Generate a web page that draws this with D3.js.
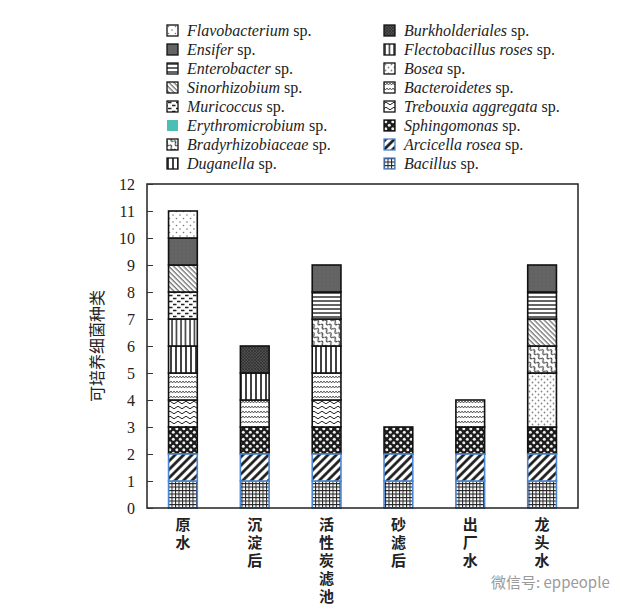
<!DOCTYPE html>
<html>
<head>
<meta charset="utf-8">
<script src="https://cdn.jsdelivr.net/npm/d3@7"></script>
<style>
  body { margin: 0; background: #fff; }
  svg { display: block; }
</style>
</head>
<body>
<svg width="640" height="610"></svg>
<script>
// sampling sites (x categories)
var sites = ["原水", "沉淀后", "活性炭滤池", "砂滤后", "出厂水", "龙头水"];

// legend order, two columns
var legendLeft = ["Flavobacterium", "Ensifer", "Enterobacter", "Sinorhizobium",
    "Muricoccus", "Erythromicrobium", "Bradyrhizobiaceae", "Duganella"];
var legendRight = ["Burkholderiales", "Flectobacillus roses", "Bosea", "Bacteroidetes",
    "Trebouxia aggregata", "Sphingomonas", "Arcicella rosea", "Bacillus"];

// stacked species per site, bottom to top, and number of species of each segment
var stackRaw = ["Bacillus", "Arcicella rosea", "Sphingomonas", "Trebouxia aggregata", "Bacteroidetes",
    "Duganella", "Flectobacillus roses", "Muricoccus", "Sinorhizobium", "Ensifer", "Flavobacterium"];
var countRaw = [1, 1, 1, 1, 1, 1, 1, 1, 1, 1, 1];
var stackSettled = ["Bacillus", "Arcicella rosea", "Sphingomonas", "Bacteroidetes", "Duganella", "Burkholderiales"];
var countSettled = [1, 1, 1, 1, 1, 1];
var stackCarbon = ["Bacillus", "Arcicella rosea", "Sphingomonas", "Trebouxia aggregata", "Bacteroidetes",
    "Duganella", "Bradyrhizobiaceae", "Enterobacter", "Ensifer"];
var countCarbon = [1, 1, 1, 1, 1, 1, 1, 1, 1];
var stackSand = ["Bacillus", "Arcicella rosea", "Sphingomonas"];
var countSand = [1, 1, 1];
var stackFinished = ["Bacillus", "Arcicella rosea", "Sphingomonas", "Bacteroidetes"];
var countFinished = [1, 1, 1, 1];
var stackTap = ["Bacillus", "Arcicella rosea", "Sphingomonas", "Bosea", "Bradyrhizobiaceae",
    "Sinorhizobium", "Enterobacter", "Ensifer"];
var countTap = [1, 1, 1, 2, 1, 1, 1, 1];

var yTicks = [0, 1, 2, 3, 4, 5, 6, 7, 8, 9, 10, 11, 12];

var stacks = [stackRaw, stackSettled, stackCarbon, stackSand, stackFinished, stackTap];
var counts = [countRaw, countSettled, countCarbon, countSand, countFinished, countTap];

var svg = d3.select("svg"),
    margin = {top: 184, right: 62, bottom: 102, left: 147},
    width = +svg.attr("width"),
    height = +svg.attr("height");

var x = d3.scaleBand()
    .domain(sites)
    .range([margin.left, width - margin.right])
    .paddingInner(0.6)
    .paddingOuter(0.3);

var y = d3.scaleLinear()
    .domain([0, 12])
    .range([height - margin.bottom, margin.top]);

// ---- fill patterns ----
var defs = svg.append("defs");
function pat(id, w, h, bg, rot) {
    var p = defs.append("pattern")
        .attr("id", id)
        .attr("patternUnits", "userSpaceOnUse")
        .attr("width", w).attr("height", h);
    if (rot) p.attr("patternTransform", "rotate(" + rot + ")");
    p.append("rect").attr("width", w).attr("height", h).attr("fill", bg);
    return p;
}

var p;
p = pat("p-bacillus", 3.5, 3.5, "#fff");
p.append("path").attr("d", "M0 0.5H3.5M0.5 0V3.5").attr("stroke", "#222").attr("stroke-width", 1);

p = pat("p-arcicella", 6, 6, "#fff", 45);
p.append("line").attr("x1", 1.5).attr("x2", 1.5).attr("y1", 0).attr("y2", 6)
    .attr("stroke", "#111").attr("stroke-width", 2.6);

p = pat("p-sphingo", 7, 7, "#1c1c1c");
p.append("circle").attr("cx", 1.8).attr("cy", 1.8).attr("r", 1.5).attr("fill", "#eee");
p.append("circle").attr("cx", 5.3).attr("cy", 5.3).attr("r", 1.5).attr("fill", "#eee");

p = pat("p-trebouxia", 8, 5, "#fff");
p.append("path").attr("d", "M0 2.5 Q2 0 4 2.5 T8 2.5").attr("fill", "none")
    .attr("stroke", "#222").attr("stroke-width", 1);

p = pat("p-bacteroidetes", 6, 5, "#fff");
p.append("path").attr("d", "M0 1 L1.5 3 L3 1 L4.5 3 L6 1").attr("fill", "none")
    .attr("stroke", "#333").attr("stroke-width", 0.8);

p = pat("p-duganella", 5, 5, "#fff");
p.append("line").attr("x1", 1).attr("x2", 1).attr("y1", 0).attr("y2", 5)
    .attr("stroke", "#111").attr("stroke-width", 1.6);

p = pat("p-flecto", 4.5, 4.5, "#fff");
p.append("line").attr("x1", 1).attr("x2", 1).attr("y1", 0).attr("y2", 4.5)
    .attr("stroke", "#111").attr("stroke-width", 1.3);

p = pat("p-muricoccus", 8, 6, "#fff");
p.append("path").attr("d", "M1 1.5H4.5M5 4.5H8.5M-3 4.5H0.5").attr("stroke", "#222").attr("stroke-width", 1.3);

p = pat("p-sino", 3.5, 3.5, "#fff", -45);
p.append("line").attr("x1", 1).attr("x2", 1).attr("y1", 0).attr("y2", 3.5)
    .attr("stroke", "#333").attr("stroke-width", 0.9);

p = pat("p-ensifer", 4, 4, "#646464");
p.append("circle").attr("cx", 2).attr("cy", 2).attr("r", 0.6).attr("fill", "#585858");

p = pat("p-flavo", 7, 7, "#fff");
p.append("circle").attr("cx", 1.5).attr("cy", 1.5).attr("r", 0.8).attr("fill", "#777");
p.append("circle").attr("cx", 5).attr("cy", 5).attr("r", 0.8).attr("fill", "#777");

p = pat("p-bosea", 6, 6, "#fff");
p.append("circle").attr("cx", 1.5).attr("cy", 1.5).attr("r", 0.9).attr("fill", "#888");
p.append("circle").attr("cx", 4.5).attr("cy", 4.5).attr("r", 0.9).attr("fill", "#888");

p = pat("p-entero", 4, 4, "#fff");
p.append("line").attr("x1", 0).attr("x2", 4).attr("y1", 1).attr("y2", 1)
    .attr("stroke", "#111").attr("stroke-width", 1.3);

p = pat("p-brady", 6, 6, "#fff", 45);
p.append("path").attr("d", "M0 3 Q1.5 0 3 3 T6 3").attr("fill", "none")
    .attr("stroke", "#222").attr("stroke-width", 1.1);

p = pat("p-burk", 3, 3, "#4e4e4e");
p.append("path").attr("d", "M0 0L3 3M3 0L0 3").attr("stroke", "#2a2a2a").attr("stroke-width", 0.6);

var fills = {
    "Flavobacterium": "url(#p-flavo)",
    "Ensifer": "url(#p-ensifer)",
    "Enterobacter": "url(#p-entero)",
    "Sinorhizobium": "url(#p-sino)",
    "Muricoccus": "url(#p-muricoccus)",
    "Erythromicrobium": "#4cbfb4",
    "Bradyrhizobiaceae": "url(#p-brady)",
    "Duganella": "url(#p-duganella)",
    "Burkholderiales": "url(#p-burk)",
    "Flectobacillus roses": "url(#p-flecto)",
    "Bosea": "url(#p-bosea)",
    "Bacteroidetes": "url(#p-bacteroidetes)",
    "Trebouxia aggregata": "url(#p-trebouxia)",
    "Sphingomonas": "url(#p-sphingo)",
    "Arcicella rosea": "url(#p-arcicella)",
    "Bacillus": "url(#p-bacillus)"
};
function edge(name) {
    if (name == "Bacillus" || name == "Arcicella rosea") return "#4d86d0";
    if (name == "Erythromicrobium") return "none";
    return "#111";
}

// ---- stacked bars ----
var segments = [];
sites.forEach(function(site, i) {
    var acc = 0;
    stacks[i].forEach(function(name, j) {
        segments.push({site: site, name: name, y0: acc, y1: acc + counts[i][j]});
        acc += counts[i][j];
    });
});

// draw black-edged segments first, blue-edged ones on top
segments.sort(function(a, b) { return (edge(a.name) == "#111" ? 0 : 1) - (edge(b.name) == "#111" ? 0 : 1); });

svg.append("g").selectAll("rect")
    .data(segments)
    .enter().append("rect")
    .attr("x", function(d) { return x(d.site); })
    .attr("y", function(d) { return y(d.y1); })
    .attr("width", x.bandwidth())
    .attr("height", function(d) { return y(d.y0) - y(d.y1); })
    .attr("fill", function(d) { return fills[d.name]; })
    .attr("stroke", function(d) { return edge(d.name); })
    .attr("stroke-width", 1.6);

// ---- frame and axis ----
svg.append("rect")
    .attr("x", margin.left).attr("y", margin.top)
    .attr("width", width - margin.left - margin.right)
    .attr("height", height - margin.top - margin.bottom)
    .attr("fill", "none").attr("stroke", "#222").attr("stroke-width", 1.5);

var yAxis = svg.append("g")
    .attr("transform", "translate(" + margin.left + ",0)")
    .call(d3.axisLeft(y).tickValues(yTicks).tickSizeInner(-6).tickSizeOuter(0).tickPadding(12));
yAxis.select(".domain").remove();
yAxis.selectAll("line").attr("stroke", "#333");
yAxis.selectAll("text")
    .attr("font-family", "Liberation Serif, serif")
    .attr("font-size", 16)
    .attr("fill", "#222");

svg.append("text")
    .attr("transform", "translate(103," + (margin.top + (height - margin.bottom - margin.top) / 2) + ") rotate(-90)")
    .attr("text-anchor", "middle")
    .attr("font-family", "Noto Sans CJK SC, sans-serif")
    .attr("font-size", 16)
    .attr("fill", "#222")
    .text("可培养细菌种类");

// vertical category labels, one column of characters each
svg.append("g").selectAll("text")
    .data(sites)
    .enter().append("text")
    .attr("x", function(d) { return x(d) + x.bandwidth() / 2; })
    .attr("y", 517)
    .style("writing-mode", "vertical-rl")
    .style("text-orientation", "upright")
    .style("letter-spacing", "3px")
    .attr("font-family", "Noto Sans CJK SC, sans-serif")
    .attr("font-weight", "bold")
    .attr("font-size", 15)
    .attr("fill", "#222")
    .text(function(d) { return d; });

// ---- legend ----
function legendColumn(names, x0) {
    var g = svg.append("g");
    var row = g.selectAll("g")
        .data(names)
        .enter().append("g")
        .attr("transform", function(d, i) { return "translate(" + x0 + "," + (25 + i * 19) + ")"; });
    row.append("rect")
        .attr("width", 11).attr("height", 11)
        .attr("fill", function(d) { return fills[d]; })
        .attr("stroke", function(d) { return d == "Erythromicrobium" ? "none" : (edge(d) == "#111" ? "#111" : "#4d86d0"); })
        .attr("stroke-width", 1.3);
    var t = row.append("text")
        .attr("x", 20).attr("y", 10.5)
        .attr("font-family", "Liberation Serif, serif")
        .attr("font-size", 16)
        .attr("fill", "#222");
    t.append("tspan").attr("font-style", "italic").text(function(d) { return d; });
    t.append("tspan").text(" sp.");
}
legendColumn(legendLeft, 167);
legendColumn(legendRight, 384);

// watermark text
svg.append("text")
    .attr("x", 491).attr("y", 588)
    .attr("font-family", "Noto Sans CJK SC, sans-serif")
    .attr("font-size", 15)
    .attr("fill", "#9a9a9a")
    .text("微信号: eppeople");
</script>
</body>
</html>
